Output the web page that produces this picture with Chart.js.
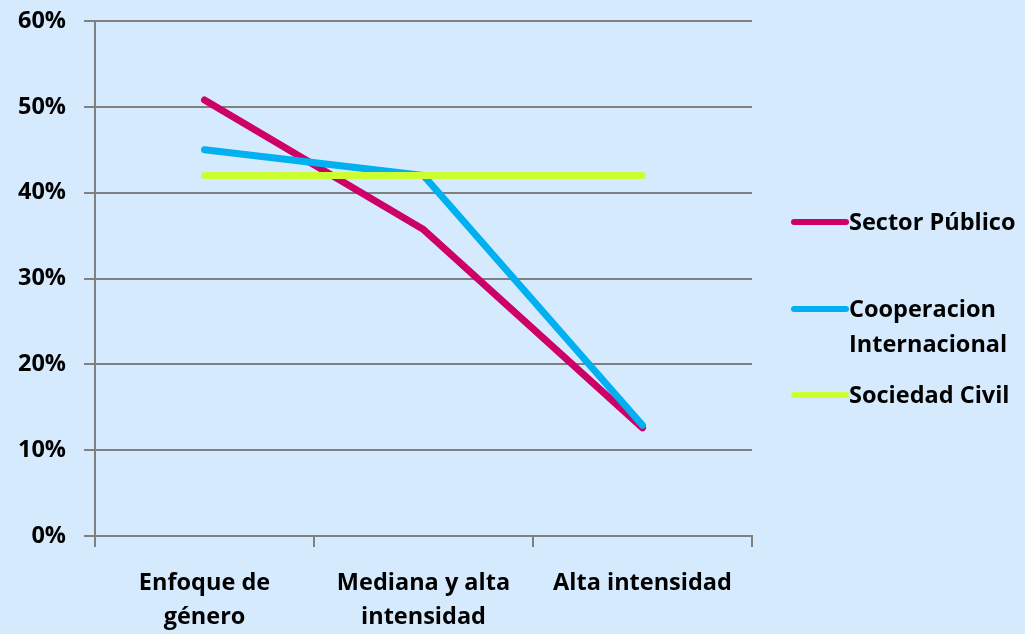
<!DOCTYPE html>
<html><head><meta charset="utf-8">
<script src="https://cdn.jsdelivr.net/npm/chart.js@4/dist/chart.umd.min.js"></script>
<style>
html,body{margin:0;padding:0;background:#d5eafd;}
#wrap{width:1025px;height:634px;}
</style></head>
<body><div id="wrap"><canvas id="c" width="1025" height="634"></canvas></div>
<script>
const categories = [["Enfoque de","género"],["Mediana y alta","intensidad"],["Alta intensidad"]];
const seriesNames = ["Sector Público","Cooperacion Internacional","Sociedad Civil"];
const legendLines = [["Sector Público"],["Cooperacion","Internacional"],["Sociedad Civil"]];
const sectorPublico = [0.508, 0.357, 0.126];
const cooperacion = [0.450, 0.420, 0.129];
const sociedadCivil = [0.420, 0.420, 0.420];
const colors = ["#cc0066","#00b0f0","#ccff33"];
const yTicks = [0,0.1,0.2,0.3,0.4,0.5,0.6];

const FONT = "'Open Sans'";
const FSIZE = 23.5;
const legendPlugin = {
  id:'customLegend',
  afterDraw(chart){
    const ctx = chart.ctx;
    const ys = [222, 309, 395];
    ctx.save();
    chart.data.datasets.forEach((ds,i)=>{
      const y = ys[i];
      ctx.strokeStyle = ds.borderColor;
      ctx.lineWidth = 6;
      ctx.lineCap = 'round';
      ctx.beginPath(); ctx.moveTo(794,y); ctx.lineTo(846,y); ctx.stroke();
      ctx.fillStyle = '#000';
      ctx.font = 'bold ' + FSIZE + 'px ' + FONT;
      ctx.textBaseline = 'middle';
      ctx.textAlign = 'left';
      legendLines[i].forEach((t,k)=>ctx.fillText(t, 849, y + 1 + k*35));
    });
    ctx.restore();
  }
};

new Chart(document.getElementById('c'), {
  type:'line',
  data:{
    labels: categories,
    datasets:[
      {label:seriesNames[0], data:sectorPublico, borderColor:colors[0], order:3},
      {label:seriesNames[1], data:cooperacion, borderColor:colors[1], order:2},
      {label:seriesNames[2], data:sociedadCivil, borderColor:colors[2], order:1}
    ].map(d=>Object.assign(d,{borderWidth:7, pointRadius:0, pointHoverRadius:0, borderCapStyle:'round', borderJoinStyle:'round', tension:0, fill:false}))
  },
  options:{
    responsive:false,
    animation:false,
    events:[],
    layout:{padding:{left:0,right:273,top:21,bottom:0}},
    plugins:{legend:{display:false}, tooltip:{enabled:false}},
    scales:{
      x:{
        offset:true,
        grid:{offset:true, drawOnChartArea:false, drawTicks:true, tickLength:11, color:'#808080', lineWidth:2},
        border:{display:true, color:'#808080', width:2},
        ticks:{color:'#000', font:{family:FONT, size:FSIZE, weight:'bold', lineHeight:1.45}, padding:19, maxRotation:0, autoSkip:false},
        afterFit(s){ s.height = 98; s.paddingLeft = 0; s.paddingRight = 0; }
      },
      y:{
        min:0, max:0.6,
        afterBuildTicks(s){ s.ticks = yTicks.map(v=>({value:v})); },
        grid:{color:'#808080', lineWidth:2, tickLength:11, drawTicks:true},
        border:{display:true, color:'#808080', width:2},
        ticks:{color:'#000', font:{family:FONT, size:FSIZE, weight:'bold'}, padding:18,
          callback:v=>Math.round(v*100)+'%'},
        afterFit(s){ s.width = 95; s.paddingTop = 0; s.paddingBottom = 0; }
      }
    }
  },
  plugins:[legendPlugin]
});
</script></body></html>
